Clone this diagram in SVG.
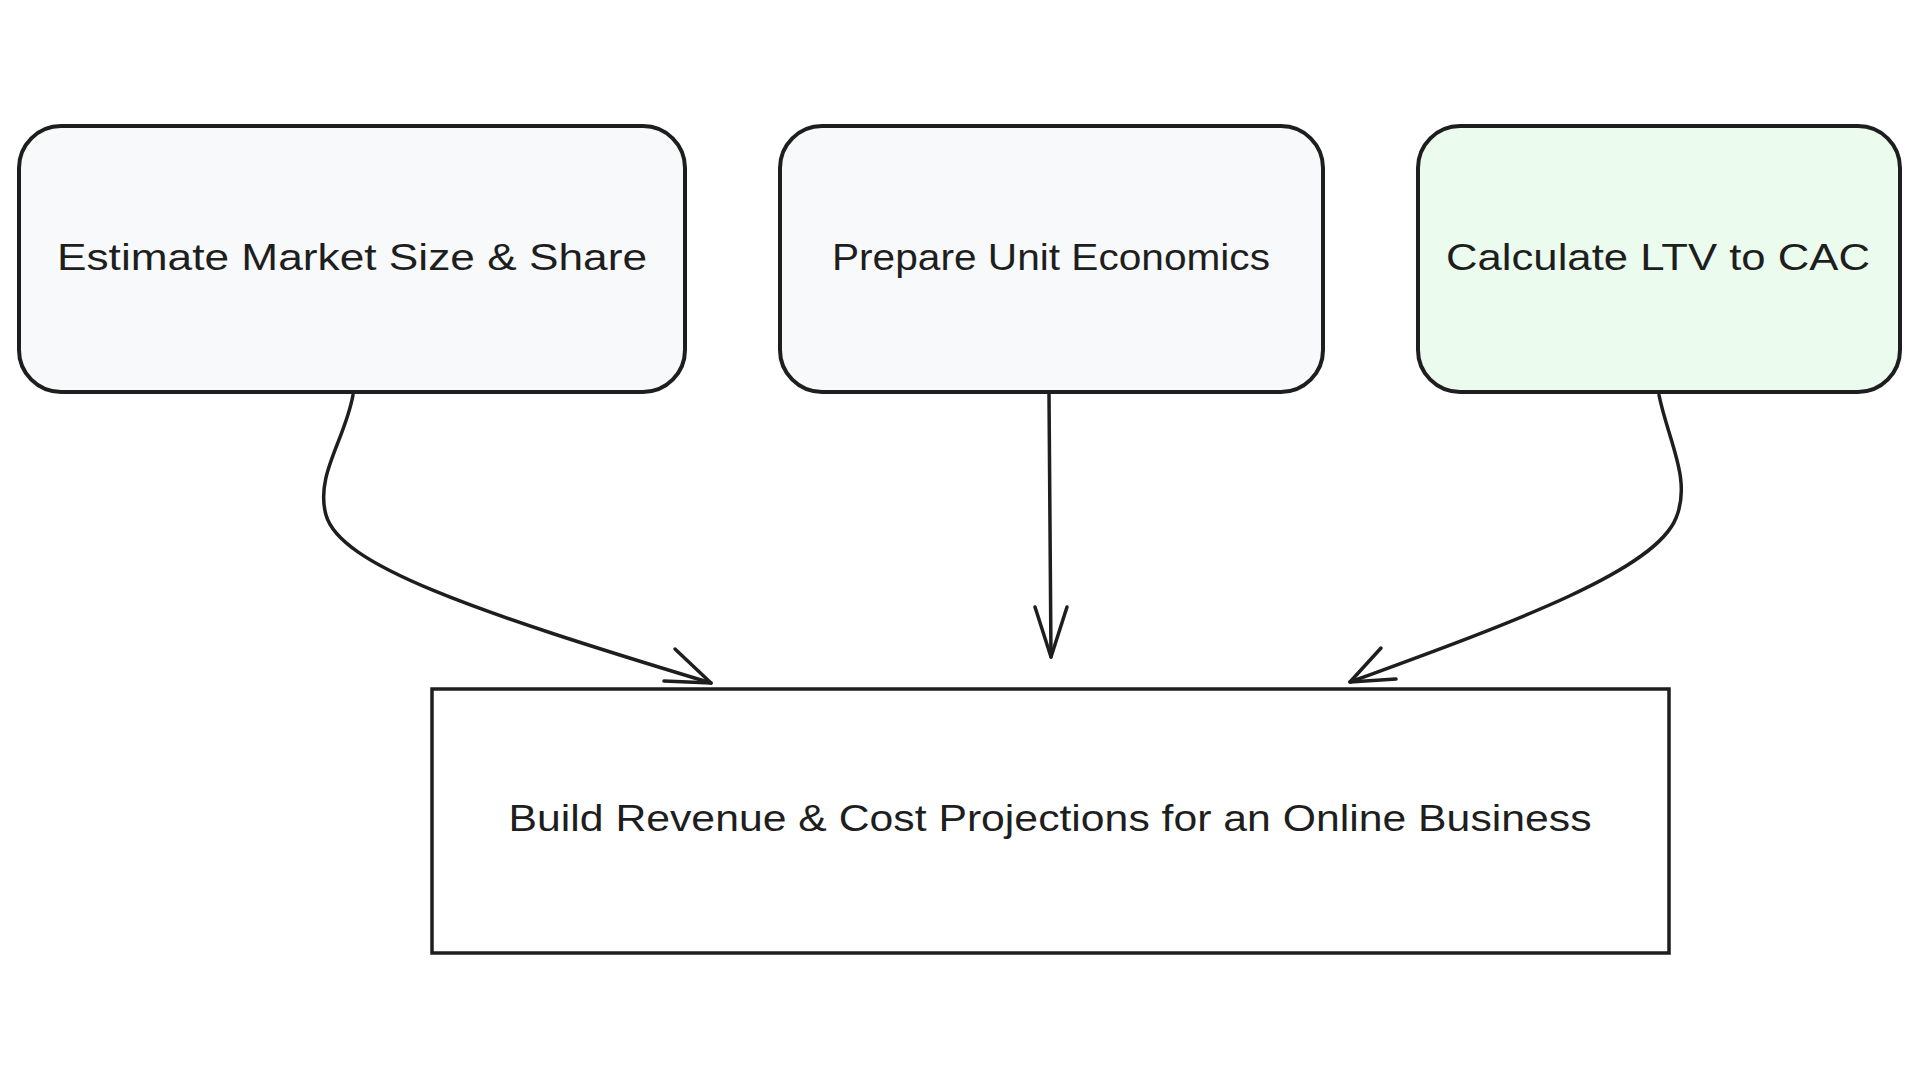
<svg xmlns="http://www.w3.org/2000/svg" width="1920" height="1080" viewBox="0 0 1920 1080">
<style>
.box{stroke:#1e1e1e;stroke-width:4;fill:#f8f9fa}
.green{fill:#ebfbee}
.plain{fill:#ffffff;stroke-width:3.5}
.lbl{font-family:"Liberation Sans","DejaVu Sans",sans-serif;font-size:36px;fill:#1e1e1e;text-anchor:middle}
.edge{fill:none;stroke:#1e1e1e;stroke-width:3.5;stroke-linecap:round;stroke-linejoin:round}
</style>
<rect width="1920" height="1080" fill="#ffffff"/>
<g id="node-market">
<rect class="box" x="19" y="126" width="666" height="266" rx="42" ry="42"/>
<text class="lbl" x="352" y="270" textLength="590" lengthAdjust="spacingAndGlyphs">Estimate Market Size &amp; Share</text>
</g>
<g id="node-unit">
<rect class="box" x="780" y="126" width="543" height="266" rx="42" ry="42"/>
<text class="lbl" x="1051" y="270" textLength="438" lengthAdjust="spacingAndGlyphs">Prepare Unit Economics</text>
</g>
<g id="node-ltv">
<rect class="box green" x="1418" y="126" width="482" height="266" rx="42" ry="42"/>
<text class="lbl" x="1658" y="270" textLength="424" lengthAdjust="spacingAndGlyphs">Calculate LTV to CAC</text>
</g>
<g id="node-projections">
<rect class="box plain" x="432" y="689" width="1237" height="264"/>
<text class="lbl" x="1050" y="831" textLength="1083" lengthAdjust="spacingAndGlyphs">Build Revenue &amp; Cost Projections for an Online Business</text>
</g>
<g id="connectors">
<path class="edge" d="M353,395 C345,440 315,475 326,515 C340,565 470,610 711,683"/>
<path class="edge" d="M675,649 L711,683 L664,681"/>
<path class="edge" d="M1049,394 L1051,657"/>
<path class="edge" d="M1035,607 L1051,657 L1067,607"/>
<path class="edge" d="M1659,395 C1668,440 1692,480 1676,518 C1655,570 1520,620 1350,682"/>
<path class="edge" d="M1381,648 L1350,682 L1396,679"/>
</g>
</svg>
